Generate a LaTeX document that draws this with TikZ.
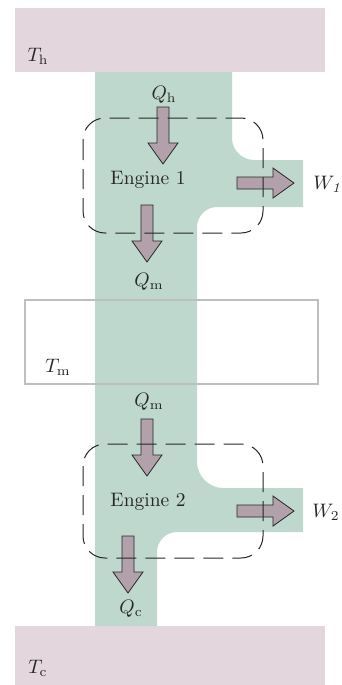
\documentclass[tikz,border=0pt]{standalone}
\usepackage{xcolor}
\usepackage{tikz}
\usetikzlibrary{positioning}
\definecolor{resfill}{RGB}{227,214,221}
\definecolor{workfill}{RGB}{190,216,205}
\definecolor{flowcol}{RGB}{178,161,171}
\definecolor{midline}{RGB}{190,190,192}
\tikzset{
  reservoir/.style={fill=resfill, draw=none},
  midres/.style={draw=midline, line width=2.8pt},
  enginebox/.style={draw=black!85, line width=1pt, rounded corners=22pt,
                    dash pattern=on 20pt off 9pt},
  lbl/.style={inner sep=0pt, scale=1.95, transform shape, text=black!85},
  flowarrow/.pic={
    \draw[fill=flowcol, draw=black!85, line width=0.8pt, line join=miter]
      (0,-6) -- (36,-6) -- (36,-15) -- (57,0) -- (36,15) -- (36,6) -- (0,6) -- cycle;
  },
}
\begin{document}
\begin{tikzpicture}[x=1pt, y=-1pt]
  \useasboundingbox (0,0) rectangle (341,685);
  % reservoirs
  \fill[reservoir] (15,8) rectangle (325,72);
  \fill[reservoir] (15,626) rectangle (325,685);
  % working substance
  \fill[workfill] (95,72) -- (232,72) -- (232,138)
      .. controls (232,150) and (242,160) .. (254,160) -- (303,160) -- (303,207)
      -- (217,207) .. controls (206,207) and (197,216) .. (197,227)
      -- (197,462) .. controls (197,476) and (209,488) .. (223,488)
      -- (303,488) -- (303,532) -- (177,532)
      .. controls (166,532) and (157,541) .. (157,552)
      -- (157,626) -- (95,626) -- cycle;
  \draw[midres] (25,300) rectangle (318,384);
  % heat and work arrows
  \pic[rotate=-90] (qh)  at (163,107) {flowarrow};
  \pic[rotate=-90] (qm1) at (147,205) {flowarrow};
  \pic[rotate=-90] (qm2) at (147,419) {flowarrow};
  \pic[rotate=-90] (qc)  at (128,536) {flowarrow};
  \pic (w1) at (237,183) {flowarrow};
  \pic (w2) at (237,511) {flowarrow};
  % engines
  \draw[enginebox] (83,118) rectangle (263,233);
  \draw[enginebox] (83,444) rectangle (263,558);
  % labels
  \node[lbl] (th) at (38,56) {$T_\mathrm{h}$};
  \node[lbl] (tm) at (58,367) {$T_\mathrm{m}$};
  \node[lbl] (tc) at (38,668) {$T_\mathrm{c}$};
  \node[lbl] (qhl) at (164,95) {$Q_\mathrm{h}$};
  \node[lbl] (qmla) at (149,282) {$Q_\mathrm{m}$};
  \node[lbl] (qmlb) at (149,402) {$Q_\mathrm{m}$};
  \node[lbl] (qcl) at (131,609) {$Q_\mathrm{c}$};
  \node[lbl] (eng1) at (148,180) {Engine 1};
  \node[lbl] (eng2) at (148,502) {Engine 2};
  \node[lbl, anchor=west] (w1l) at (313,184) {$W_{\mathit{1}}$};
  \node[lbl, anchor=west] (w2l) at (312,512) {$W_2$};
\end{tikzpicture}
\end{document}
